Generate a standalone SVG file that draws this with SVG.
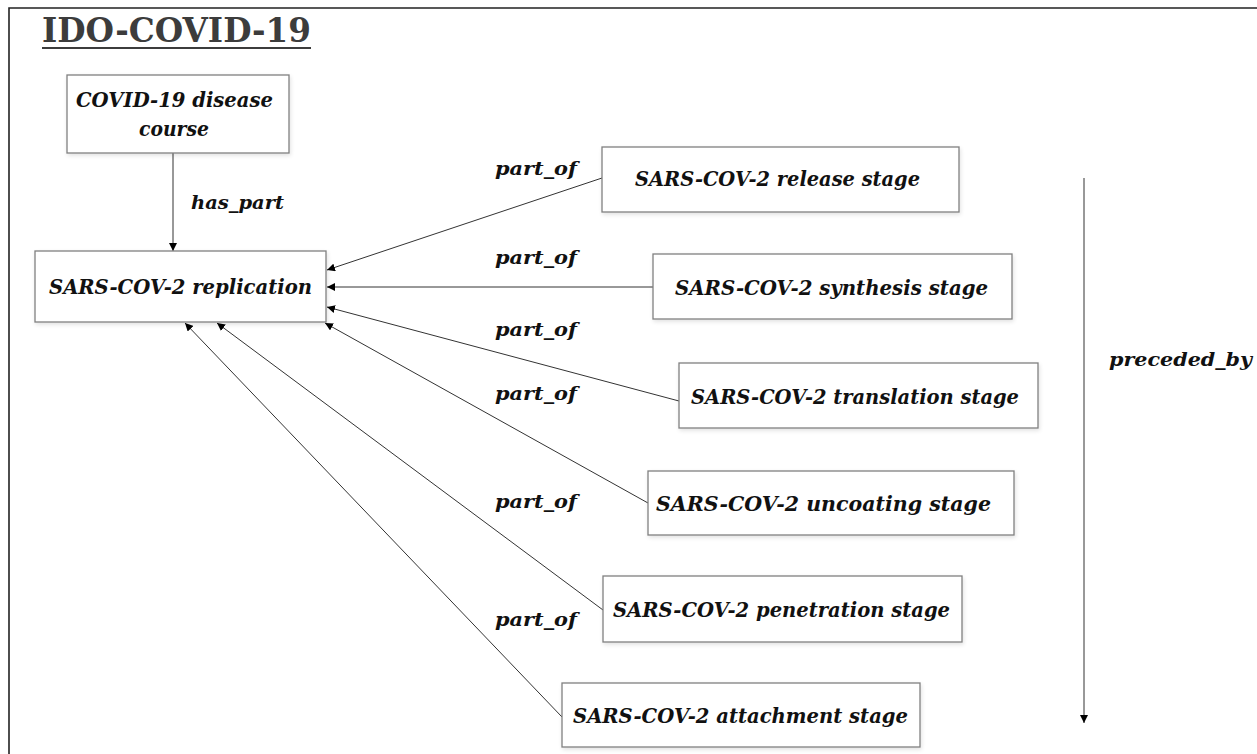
<svg xmlns="http://www.w3.org/2000/svg" width="1257" height="754" viewBox="0 0 1257 754">
<defs>
<marker id="ah" viewBox="0 0 10 10" refX="10" refY="5" markerWidth="8" markerHeight="8" markerUnits="userSpaceOnUse" orient="auto">
<path d="M0,0 L10,5 L0,10 z" fill="#000"/>
</marker>
<filter id="sh" x="-5%" y="-10%" width="110%" height="130%">
<feGaussianBlur in="SourceAlpha" stdDeviation="2"/>
<feOffset dx="1" dy="2" result="b"/>
<feComponentTransfer><feFuncA type="linear" slope="0.12"/></feComponentTransfer>
<feMerge><feMergeNode/><feMergeNode in="SourceGraphic"/></feMerge>
</filter>
</defs>
<style>
.box{fill:#fff;stroke:#808080;stroke-width:1.3}
.t{font-family:"DejaVu Serif","Liberation Serif",serif;font-weight:bold;font-style:italic;font-size:20px;fill:#111;text-anchor:middle}
.l{font-family:"DejaVu Serif","Liberation Serif",serif;font-style:italic;font-weight:bold;font-size:18px;fill:#111;text-anchor:middle}
.c{stroke:#333;stroke-width:1;fill:none;marker-end:url(#ah)}
</style>
<rect x="0" y="0" width="1257" height="754" fill="#fff"/>
<path d="M9,754 V8 H1257" fill="none" stroke="#222" stroke-width="1.6"/>
<g id="title">
<text x="42" y="42" textLength="269" lengthAdjust="spacingAndGlyphs" style="font-family:'DejaVu Serif','Liberation Serif',serif;font-weight:bold;font-size:34px;fill:#3c3c3c">IDO-COVID-19</text>
<line x1="42" y1="48" x2="311" y2="48" stroke="#3c3c3c" stroke-width="2"/>
</g>
<g id="connectors">
<line class="c" x1="173" y1="153" x2="173" y2="251"/>
<line class="c" x1="602" y1="178" x2="327" y2="270"/>
<line class="c" x1="653" y1="287" x2="327" y2="287"/>
<line class="c" x1="679" y1="401" x2="327" y2="307"/>
<line class="c" x1="648" y1="503" x2="325" y2="323"/>
<line class="c" x1="603" y1="610" x2="217" y2="323"/>
<line class="c" x1="562" y1="717" x2="185" y2="323"/>
<line class="c" x1="1084" y1="178" x2="1084" y2="723"/>
<text class="l" x="237.5" y="209" textLength="93" lengthAdjust="spacingAndGlyphs">has_part</text>
<text class="l" x="536" y="175" textLength="82" lengthAdjust="spacingAndGlyphs">part_of</text>
<text class="l" x="536" y="264" textLength="82" lengthAdjust="spacingAndGlyphs">part_of</text>
<text class="l" x="536" y="336" textLength="82" lengthAdjust="spacingAndGlyphs">part_of</text>
<text class="l" x="536" y="400" textLength="82" lengthAdjust="spacingAndGlyphs">part_of</text>
<text class="l" x="536" y="508" textLength="82" lengthAdjust="spacingAndGlyphs">part_of</text>
<text class="l" x="536" y="626" textLength="82" lengthAdjust="spacingAndGlyphs">part_of</text>
<text class="l" x="1180.5" y="366" textLength="143" lengthAdjust="spacingAndGlyphs">preceded_by</text>
</g>
<g id="disease-course">
<rect class="box" filter="url(#sh)" x="67" y="75" width="222" height="78"/>
<text class="t" x="174.5" y="107" textLength="197" lengthAdjust="spacingAndGlyphs">COVID-19 disease</text>
<text class="t" x="174" y="136" textLength="70" lengthAdjust="spacingAndGlyphs">course</text>
</g>
<g id="replication">
<rect class="box" filter="url(#sh)" x="35" y="251" width="291" height="71"/>
<text class="t" x="180.5" y="294" textLength="263" lengthAdjust="spacingAndGlyphs">SARS-COV-2 replication</text>
</g>
<g id="release">
<rect class="box" filter="url(#sh)" x="602" y="147" width="357" height="65"/>
<text class="t" x="777.5" y="186" textLength="285" lengthAdjust="spacingAndGlyphs">SARS-COV-2 release stage</text>
</g>
<g id="synthesis">
<rect class="box" filter="url(#sh)" x="653" y="254" width="359" height="65"/>
<text class="t" x="831.5" y="295" textLength="313" lengthAdjust="spacingAndGlyphs">SARS-COV-2 synthesis stage</text>
</g>
<g id="translation">
<rect class="box" filter="url(#sh)" x="679" y="363" width="359" height="65"/>
<text class="t" x="855" y="404" textLength="328" lengthAdjust="spacingAndGlyphs">SARS-COV-2 translation stage</text>
</g>
<g id="uncoating">
<rect class="box" filter="url(#sh)" x="648" y="471" width="366" height="64"/>
<text class="t" x="823.5" y="511" textLength="335" lengthAdjust="spacingAndGlyphs">SARS-COV-2 uncoating stage</text>
</g>
<g id="penetration">
<rect class="box" filter="url(#sh)" x="603" y="576" width="359" height="66"/>
<text class="t" x="781.5" y="617" textLength="337" lengthAdjust="spacingAndGlyphs">SARS-COV-2 penetration stage</text>
</g>
<g id="attachment">
<rect class="box" filter="url(#sh)" x="562" y="683" width="358" height="64"/>
<text class="t" x="740.5" y="723" textLength="335" lengthAdjust="spacingAndGlyphs">SARS-COV-2 attachment stage</text>
</g>
</svg>
